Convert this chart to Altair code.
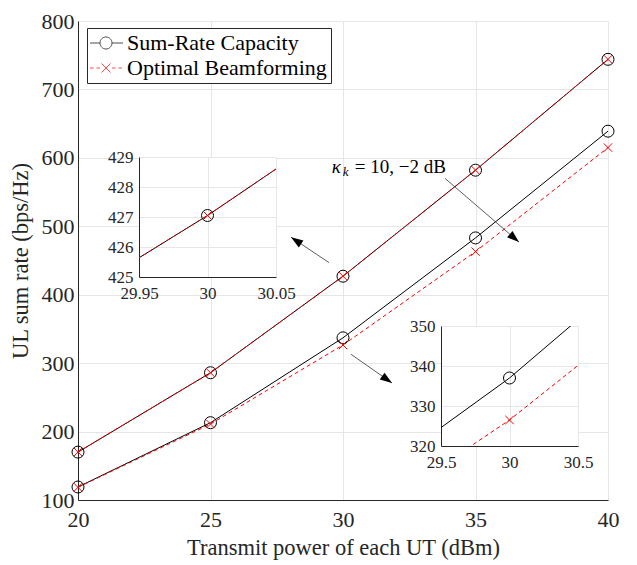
import math
import altair as alt
import pandas as pd

# ---------------- data ----------------
power = [20, 25, 30, 35, 40]
cap_hi = [170, 286, 427.05, 582, 744]
opt_hi = [170, 286, 427.05, 582, 744]
cap_lo = [119, 213, 337, 483, 639]
opt_lo = [118.5, 211, 326.5, 463, 615]

series_names = ["Sum-Rate Capacity", "Optimal Beamforming"]
kappa_names = ["10 dB", "-2 dB"]

x_ticks = [20, 25, 30, 35, 40]
y_ticks = [100, 200, 300, 400, 500, 600, 700, 800]
in1_x_ticks = [29.95, 30, 30.05]
in1_y_ticks = [425, 426, 427, 428, 429]
in2_x_ticks = [29.5, 30, 30.5]
in2_y_ticks = [320, 330, 340, 350]

# annotation arrows (data coordinates)
arrow_x = [33.85, 29.47, 30.30]
arrow_y = [570, 447, 313]
arrow_x2 = [36.64, 28.04, 31.85]
arrow_y2 = [477, 484, 271]

label_x = [29.58]
label_y = [587]

W, H = 530, 479
FONT = "Liberation Serif"
AX = "#262626"
GRID = "#e6e6e6"

rows = []
for kappa, cap, opt in [(kappa_names[0], cap_hi, opt_hi), (kappa_names[1], cap_lo, opt_lo)]:
    for p, c, o in zip(power, cap, opt):
        rows.append({"power": p, "rate": c, "series": series_names[0], "kappa": kappa})
        rows.append({"power": p, "rate": o, "series": series_names[1], "kappa": kappa})
df = pd.DataFrame(rows)

ang = []
for x1, y1, x2, y2 in zip(arrow_x, arrow_y, arrow_x2, arrow_y2):
    dxp = (x2 - x1) * W / 20.0
    dyp = -(y2 - y1) * H / 700.0
    ang.append(math.degrees(math.atan2(dxp, -dyp)) % 360)
arr = pd.DataFrame({"x": arrow_x, "y": arrow_y, "x2": arrow_x2, "y2": arrow_y2, "ang": ang})
lab = pd.DataFrame({"x": label_x, "y": label_y})

XPATH = "M-0.7,-0.7L0.7,0.7M-0.7,0.7L0.7,-0.7"
HEAD = "M0,0L0.38,1.1L-0.38,1.1Z"
LEG_CAP = "M-1.2,0L-0.2,0M1.0,0L2.1,0M1.0,0A0.6,0.6,0,1,1,-0.2,0A0.6,0.6,0,1,1,1.0,0"
LEG_OPT = ("M-1.2,0L-0.85,0M-0.55,0L-0.2,0M1.0,0L1.35,0M1.65,0L2.0,0"
           "M-0.05,-0.45L0.85,0.45M-0.05,0.45L0.85,-0.45")


def layers(xs, ys, clip):
    base = alt.Chart(df)
    enc = dict(x=alt.X("power:Q", scale=xs), y=alt.Y("rate:Q", scale=ys))
    black = base.transform_filter(alt.datum.series == series_names[0]).mark_line(
        color="black", strokeWidth=1, clip=clip).encode(detail="kappa:N", **enc)
    red = base.transform_filter(alt.datum.series == series_names[1]).mark_line(
        color="red", strokeWidth=1, strokeDash=[4, 3], clip=clip).encode(detail="kappa:N", **enc)
    circ = base.transform_filter(alt.datum.series == series_names[0]).mark_point(
        shape="circle", size=144, color="black", filled=False, strokeWidth=1, clip=clip, opacity=1).encode(**enc)
    crs = base.transform_filter(alt.datum.series == series_names[1]).mark_point(
        shape=XPATH, size=144, color="red", filled=False, strokeWidth=1, clip=clip, opacity=1).encode(**enc)
    return [black, red, circ, crs]


# ---------------- main ----------------
mx = alt.Scale(domain=[20, 40], nice=False, zero=False)
my = alt.Scale(domain=[100, 800], nice=False, zero=False)
main_layers = layers(mx, my, False)

xaxis = alt.Axis(values=x_ticks, tickCount=len(x_ticks), title="Transmit power of each UT (dBm)",
                 grid=True, gridColor=GRID, labelFont=FONT, titleFont=FONT, labelFontSize=22,
                 titleFontSize=22.5, labelPadding=9, titlePadding=6, ticks=False, labelFlush=False,
                 labelOverlap=False)
yaxis = alt.Axis(values=y_ticks, tickCount=len(y_ticks), title="UL sum rate (bps/Hz)",
                 grid=True, gridColor=GRID, labelFont=FONT, titleFont=FONT, labelFontSize=22,
                 titleFontSize=22.5, labelPadding=4, titlePadding=9, ticks=False, labelFlush=False,
                 labelOverlap=False)

axes_layer = alt.Chart(df).mark_point(opacity=0).encode(
    x=alt.X("power:Q", scale=mx, axis=xaxis), y=alt.Y("rate:Q", scale=my, axis=yaxis))

rules = alt.Chart(arr).mark_rule(color="#333333", strokeWidth=0.8).encode(
    x=alt.X("x:Q", scale=mx), y=alt.Y("y:Q", scale=my), x2="x2:Q", y2="y2:Q")
heads = alt.Chart(arr).mark_point(shape=HEAD, size=484, filled=True, color="black", opacity=1).encode(
    x=alt.X("x2:Q", scale=mx), y=alt.Y("y2:Q", scale=my), angle=alt.Angle("ang:Q", scale=None))

tpos = dict(x=alt.X("x:Q", scale=mx), y=alt.Y("y:Q", scale=my))
t1 = alt.Chart(lab).mark_text(text="κ", font=FONT, fontSize=19, fontStyle="italic", align="left",
                              baseline="middle", color="black").encode(**tpos)
t2 = alt.Chart(lab).mark_text(text="k", font=FONT, fontSize=13, fontStyle="italic", align="left",
                              baseline="middle", dx=11, dy=5, color="black").encode(**tpos)
t3 = alt.Chart(lab).mark_text(text="= 10, −2 dB", font=FONT, fontSize=19, align="left",
                              baseline="middle", dx=23, color="black").encode(**tpos)

leg = alt.Legend(orient="none", legendX=9, legendY=7, title=None, labelFont=FONT, labelFontSize=22,
                 labelColor="black", labelLimit=400, symbolSize=400, symbolStrokeWidth=1, labelOffset=14,
                 padding=4, rowPadding=3, fillColor="white", strokeColor=AX)
legend_layer = alt.Chart(pd.DataFrame({"name": series_names})).transform_filter(
    "datum.name == 'none'").mark_point(filled=False).encode(
    color=alt.Color("name:N", scale=alt.Scale(domain=series_names, range=["black", "red"]), legend=leg),
    shape=alt.Shape("name:N", scale=alt.Scale(domain=series_names, range=[LEG_CAP, LEG_OPT]), legend=leg),
)

main = alt.layer(axes_layer, *main_layers, rules, heads, t1, t2, t3, legend_layer).properties(
    width=W, height=H)


# ---------------- insets ----------------
def inset(xd, yd, xt, yt):
    xs = alt.Scale(domain=xd, nice=False, zero=False)
    ys = alt.Scale(domain=yd, nice=False, zero=False)
    ax = alt.Axis(values=xt, tickCount=len(xt), title=None, grid=True, gridColor=GRID, format="~f",
                  labelFont=FONT, labelFontSize=17, labelPadding=8, ticks=False, labelFlush=False,
                  labelOverlap=False)
    ay = alt.Axis(values=yt, tickCount=len(yt), title=None, grid=True, gridColor=GRID, format="~f",
                  labelFont=FONT, labelFontSize=17, labelPadding=6, ticks=False, labelFlush=False,
                  labelOverlap=False)
    axl = alt.Chart(df).mark_point(opacity=0, clip=True).encode(
        x=alt.X("power:Q", scale=xs, axis=ax), y=alt.Y("rate:Q", scale=ys, axis=ay))
    return alt.layer(axl, *layers(xs, ys, True)).properties(
        width=137, height=120, view=alt.ViewBackground(fill="white", strokeWidth=0))


def spacer(w, h=1):
    return alt.Chart(pd.DataFrame({"s": [0]})).mark_point(opacity=0).properties(width=w, height=h)


in1 = inset([29.95, 30.05], [425, 429], in1_x_ticks, in1_y_ticks)
in2 = inset([29.5, 30.5], [320, 350], in2_x_ticks, in2_y_ticks)

chart = alt.vconcat(
    alt.hconcat(main, bounds="flush"),
    spacer(1, 136),
    alt.hconcat(spacer(61), in1, spacing=0, bounds="flush"),
    spacer(1, 169),
    alt.hconcat(spacer(363), in2, spacing=0, bounds="flush"),
    spacing=0, bounds="flush",
).properties(
    padding={"left": 1, "top": 2, "right": 5, "bottom": 5},
).configure_view(strokeWidth=0).configure_axis(
    labelFont=FONT, titleFont=FONT, labelColor=AX, titleColor=AX, domainColor=AX, tickColor=AX,
    titleFontWeight="normal",
)

chart.save("out.html", embed_options={"renderer": "svg", "actions": False})
